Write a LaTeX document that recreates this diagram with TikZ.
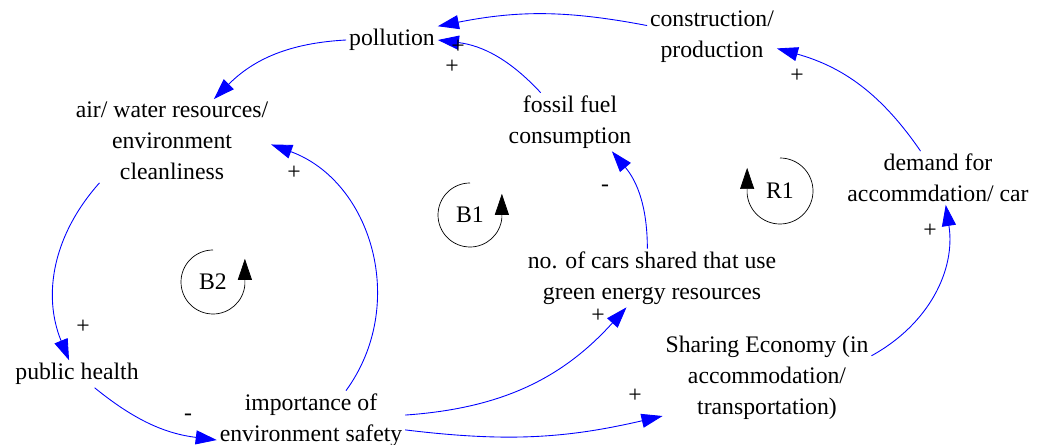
\documentclass[tikz,border=0pt]{standalone}
\usepackage{fontspec}
\setmainfont{Liberation Serif}
\usetikzlibrary{arrows.meta}

\tikzset{
  var/.style={align=center, inner sep=1.5pt},
  link/.style={blue, line width=0.5pt, ->},
  sign/.style={inner sep=0pt},
  loopsym/.style={draw=black, line width=0.4pt, ->},
}

\begin{document}
\begin{tikzpicture}[>={Triangle[length=12pt,width=8pt]}, x=0.02cm, y=0.02cm,
                    font=\fontsize{13.5}{17.6}\selectfont]
    \useasboundingbox (0,0) rectangle (1061,-445);

    % Variables
    \node [var] (poll)   at (392,-40)  {pollution};
    \node [var] (constr) at (712,-37)  {construction/\\production};
    \node [var] (air)    at (172,-141) {air/ water resources/\\environment\\cleanliness};
    \node [var] (fossil) at (570,-122) {fossil fuel\\consumption};
    \node [var] (demand) at (938,-178) {demand for\\accommdation/ car};
    \node [var] (cars)   at (652,-278) {no. of cars shared that use\\green energy resources};
    \node [var] (share)  at (767,-378) {Sharing Economy (in\\accommodation/\\transportation)};
    \node [var] (health) at (77,-374)  {public health};
    \node [var] (imp)    at (311,-420) {importance of\\environment safety};

    % Links
    \path [link] (constr.170) edge [bend right=11]                (poll.north east);
    \path [link] (fossil.135) edge [bend right=20]                (poll.east);
    \path [link] (poll.west)  edge [bend right=21]                (air.45);
    \path [link] (air.210)    edge [bend right=32]                (health.120);
    \path [link] (health.-38) edge [bend right=16]                (imp.192);
    \path [link] (imp.40)     edge [bend right=53, looseness=1.06] (air.-2);
    \path [link] (imp.3)      edge [bend right=22]                (cars.229);
    \path [link] (imp.-6)     edge [bend right=10]                (share.200);
    \path [link] (cars.99)    edge [bend right=20]                (fossil.-35);
    \path [link] (share.12)   edge [bend right=35]                (demand.-74);
    \path [link] (demand.123) edge [bend right=20]                (constr.-10);

    % Polarities
    \node [sign] (s1)  at (458,-47)  {+};
    \node [sign] (s2)  at (452,-67)  {+};
    \node [sign] (s3)  at (83,-327)  {+};
    \node [sign] (s4)  at (188,-417) {-};
    \node [sign] (s5)  at (294,-173) {+};
    \node [sign] (s6)  at (598,-316) {+};
    \node [sign] (s7)  at (635,-396) {+};
    \node [sign] (s8)  at (605,-188) {-};
    \node [sign] (s9)  at (930,-231) {+};
    \node [sign] (s10) at (797,-76)  {+};

    % Loops
    \node [var] (b1) at (470,-215) {B1};
    \node [var] (b2) at (213,-282) {B2};
    \node [var] (r1) at (780,-191) {R1};
    \draw [loopsym] (b1) ++(0,32) arc [start angle=90, end angle=355, radius=32] -- ++(0,24);
    \draw [loopsym] (b2) ++(0,32) arc [start angle=90, end angle=355, radius=32] -- ++(0,26);
    \draw [loopsym] (r1) ++(0,33) arc [start angle=90, end angle=-175, radius=33] -- ++(0,26);
\end{tikzpicture}
\end{document}
